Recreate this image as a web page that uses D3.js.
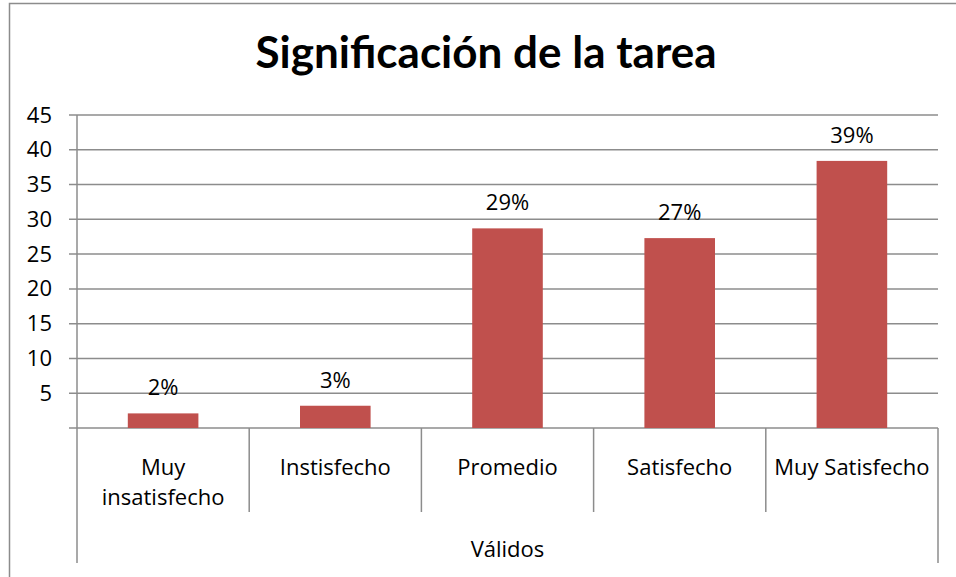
<!DOCTYPE html>
<html>
<head>
<meta charset="utf-8">
<script src="https://cdn.jsdelivr.net/npm/d3@7"></script>
<style>
    body { margin: 0; background: #fff; }
    text { font-family: "Open Sans", Lato, sans-serif; fill: #000; }
    .grid line { stroke: #8c8c8c; stroke-width: 1.5; }
    .bar { fill: #c0504d; }
</style>
</head>
<body>
<div id="chartDiv"></div>
<script>
// values
let categories = ['Muy\ninsatisfecho', 'Instisfecho', 'Promedio', 'Satisfecho', 'Muy Satisfecho'];
let values = [2.1, 3.2, 28.7, 27.3, 38.4];
let pctLabels = ['2%', '3%', '29%', '27%', '39%'];
let yTicks = [5, 10, 15, 20, 25, 30, 35, 40, 45];
let groupLabel = 'Válidos';
let title = 'Significación de la tarea';

let W = 956, H = 577;
let margin = {top: 115, right: 18, bottom: 149, left: 77};
let width = W - margin.left - margin.right;
let height = H - margin.top - margin.bottom;
let fontSize = '22px';

let svg = d3.select('#chartDiv')
    .append('svg')
    .attr('width', W)
    .attr('height', H);

// outer chart frame
svg.append('rect')
    .attr('x', 9.5).attr('y', 3.5)
    .attr('width', W).attr('height', H)
    .attr('fill', 'none')
    .attr('stroke', '#8c8c8c')
    .attr('stroke-width', 1.5);

svg.append('text')
    .attr('x', 486)
    .attr('y', 68)
    .attr('text-anchor', 'middle')
    .style('font-family', 'Lato, sans-serif')
    .style('font-size', '44px')
    .style('font-weight', 'bold')
    .text(title);

let g = svg.append('g')
    .attr('transform', 'translate(' + margin.left + ',' + margin.top + ')');

let xScale = d3.scaleBand()
    .domain(categories)
    .range([0, width])
    .padding(0);

let yScale = d3.scaleLinear()
    .domain([0, 45])
    .range([height, 0]);

// gridlines
g.append('g')
    .attr('class', 'grid')
    .selectAll('line')
    .data([0].concat(yTicks))
    .enter()
    .append('line')
    .attr('x1', -8).attr('x2', width)
    .attr('y1', function(d) {return yScale(d)})
    .attr('y2', function(d) {return yScale(d)});

// y axis
let yAxis = g.append('g')
    .call(d3.axisLeft(yScale).tickValues(yTicks).tickSize(0).tickPadding(25));
yAxis.select('.domain').remove();
yAxis.selectAll('text').style('font-size', fontSize).style('font-family', '"Open Sans", sans-serif');

// bars
let barW = xScale.bandwidth() * 0.41;
g.selectAll('.bar')
    .data(values)
    .enter()
    .append('rect')
    .attr('class', 'bar')
    .attr('x', function(d, i) {return xScale(categories[i]) + (xScale.bandwidth() - barW) / 2})
    .attr('width', barW)
    .attr('y', function(d) {return yScale(d)})
    .attr('height', function(d) {return height - yScale(d)});

g.selectAll('.pct')
    .data(values)
    .enter()
    .append('text')
    .attr('class', 'pct')
    .attr('x', function(d, i) {return xScale(categories[i]) + xScale.bandwidth() / 2})
    .attr('y', function(d) {return yScale(d) - 18})
    .attr('text-anchor', 'middle')
    .style('font-size', fontSize)
    .text(function(d, i) {return pctLabels[i]});

// axis lines and category separators
let grid = g.append('g').attr('class', 'grid');
grid.append('line')
    .attr('x1', 0).attr('x2', 0)
    .attr('y1', 0).attr('y2', height + 135);
grid.append('line')
    .attr('x1', width).attr('x2', width)
    .attr('y1', height).attr('y2', height + 135);
grid.selectAll('.sep')
    .data(categories.slice(1))
    .enter()
    .append('line')
    .attr('x1', function(d) {return xScale(d)})
    .attr('x2', function(d) {return xScale(d)})
    .attr('y1', height).attr('y2', height + 84);

// category labels
g.selectAll('.cat')
    .data(categories)
    .enter()
    .append('text')
    .attr('class', 'cat')
    .attr('text-anchor', 'middle')
    .style('font-size', fontSize)
    .attr('transform', function(d) {
        return 'translate(' + (xScale(d) + xScale.bandwidth() / 2) + ',' + (height + 47) + ')';
    })
    .each(function(d) {
        let lines = d.split('\n');
        let t = d3.select(this);
        lines.forEach(function(l, i) {
            t.append('tspan').attr('x', 0).attr('y', i * 30).text(l);
        });
    });

g.append('text')
    .attr('x', width / 2)
    .attr('y', height + 129)
    .attr('text-anchor', 'middle')
    .style('font-size', fontSize)
    .text(groupLabel);
</script>
</body>
</html>
